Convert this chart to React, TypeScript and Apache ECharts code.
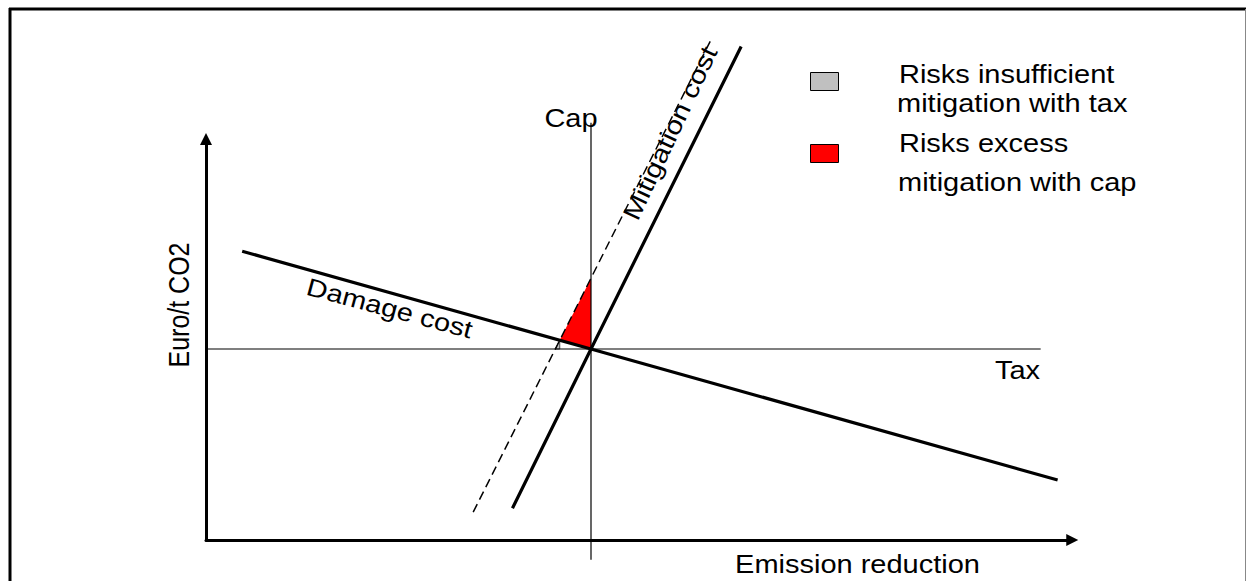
import React, { useEffect, useRef } from "react";
import * as echarts from "echarts";

// ---- data (abstract units: intersection of tax and cap at 50/50) ----
const damageCost: number[][] = [[4.7, 75.6], [50, 50], [110.6, 15.7]];
const mitigationCost: number[][] = [[39.8, 8.3], [50, 50], [69.5, 129.2]];
const mitigationCostUncertain: number[][] = [[34.7, 7.3], [65.7, 131.4]];
const taxLevel: number[][] = [[0, 50], [108.4, 50]];
const capLevel: number[][] = [[50, -5.2], [50, 109.2]];
const insufficientArea: number[][] = [[45.37, 50], [45.94, 52.3], [45.94, 50]];
const excessArea: number[][] = [[45.94, 52.3], [50, 68.55], [50, 50]];

const legendLabels: string[][] = [
  ["Risks insufficient", "mitigation with tax"],
  ["Risks excess", "mitigation with cap"],
];
const legendColors: string[] = ["#c0c0c0", "#ff0000"];

const FONT = "'Liberation Sans', Arial, Helvetica, sans-serif";

function polygonSeries(name: string, pts: number[][], fill: string, stroke: string) {
  return {
    name,
    type: "custom",
    silent: true,
    z: 1,
    data: pts,
    encode: { x: 0, y: 1 },
    renderItem: (params: any, api: any) => {
      if (params.dataIndex !== 0) return null;
      const points = pts.map((p) => api.coord(p));
      return {
        type: "polygon",
        shape: { points },
        style: { fill, stroke, lineWidth: stroke === "none" ? 0 : 1 },
      };
    },
  };
}

function lineSeries(name: string, data: number[][], width: number, type: any = "solid") {
  return {
    name,
    type: "line",
    data,
    showSymbol: false,
    symbol: "none",
    clip: false,
    silent: true,
    z: 3,
    lineStyle: { color: "#000", width, type },
  };
}

function txt(text: string, x: number, y: number, opts: any = {}) {
  return {
    type: "text",
    x,
    y,
    rotation: opts.rotation || 0,
    scaleX: opts.scaleX ?? 1.16,
    scaleY: opts.scaleY ?? 1,
    z: 10,
    style: {
      text,
      fill: "#000",
      fontSize: opts.fontSize || 25,
      fontFamily: FONT,
      align: opts.align || "center",
      verticalAlign: "middle",
    },
  };
}

export default function App() {
  const ref = useRef<HTMLDivElement>(null);
  useEffect(() => {
    if (!ref.current) return;
    const chart = echarts.init(ref.current, null, { renderer: "svg" });
    const axisCommon = {
      type: "value",
      axisTick: { show: false },
      axisLabel: { show: false },
      splitLine: { show: false },
      axisLine: {
        show: true,
        onZero: false,
        symbol: ["none", "triangle"],
        symbolSize: [12, 12],
        lineStyle: { color: "#000", width: 3 },
      },
    };
    const legendGraphics: any[] = [];
    const rectTops = [72.5, 144.5];
    const lineYs = [
      [73.8, 103.4],
      [143.6, 181.9],
    ];
    const lineXs = [
      [899, 897],
      [899, 898],
    ];
    legendLabels.forEach((lines, i) => {
      legendGraphics.push({
        type: "rect",
        shape: { x: 810.5, y: rectTops[i], width: 28, height: 18 },
        style: { fill: legendColors[i], stroke: "#000", lineWidth: 1 },
        z: 10,
      });
      lines.forEach((l, j) => {
        legendGraphics.push(txt(l, lineXs[i][j], lineYs[i][j], { align: "left" }));
      });
    });

    chart.setOption({
      animation: false,
      grid: { left: 206, top: 138.9, right: 173.75, bottom: 41, containLabel: false, outerBoundsMode: "none" },
      xAxis: { ...axisCommon, min: 0, max: 112.5 },
      yAxis: { ...axisCommon, min: 0, max: 105 },
      series: [
        polygonSeries("Risks insufficient mitigation with tax", insufficientArea, "#c0c0c0", "#444"),
        polygonSeries("Risks excess mitigation with cap", excessArea, "#ff0000", "none"),
        lineSeries("Tax", taxLevel, 1.2),
        lineSeries("Cap", capLevel, 1.2),
        lineSeries("Mitigation cost (uncertain)", mitigationCostUncertain, 1.5, [9, 5]),
        lineSeries("Mitigation cost", mitigationCost, 3.2),
        lineSeries("Damage cost", damageCost, 3.2),
      ],
      graphic: [
        { type: "line", shape: { x1: 9, y1: 9, x2: 1246, y2: 9 }, style: { stroke: "#000", lineWidth: 3 }, z: 20 },
        { type: "line", shape: { x1: 10, y1: 8, x2: 10, y2: 581 }, style: { stroke: "#000", lineWidth: 3 }, z: 20 },
        { type: "line", shape: { x1: 1245.5, y1: 9, x2: 1245.5, y2: 581 }, style: { stroke: "#888", lineWidth: 1 }, z: 20 },
        txt("Cap", 571, 118),
        txt("Tax", 1017.5, 370),
        txt("Emission reduction", 857.5, 564),
        txt("Euro/t CO2", 179, 305, { rotation: Math.PI / 2, scaleX: 1, scaleY: 1.16 }),
        txt("Damage cost", 389.6, 308.5, { rotation: -0.262 }),
        txt("Mitigation cost", 670, 133, { rotation: 1.13, scaleX: 1.18 }),
        ...legendGraphics,
      ],
    });
    return () => chart.dispose();
  }, []);
  return (
    <div
      ref={ref}
      style={{ position: "absolute", left: 0, top: 0, width: 1246, height: 581, background: "#fff" }}
    />
  );
}
